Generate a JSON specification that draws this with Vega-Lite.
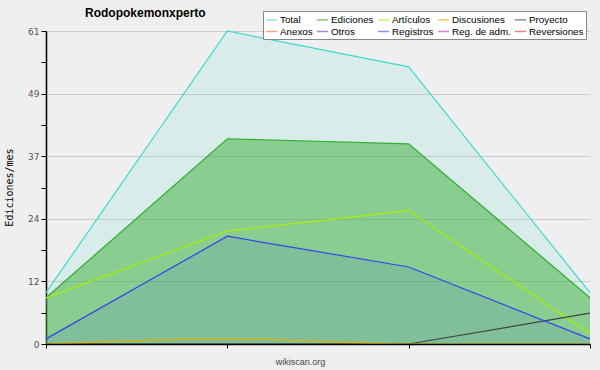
{
  "$schema": "https://vega.github.io/schema/vega-lite/v6.json",
  "width": 544,
  "height": 313,
  "autosize": {"type": "none"},
  "padding": {"left": 46, "top": 31, "right": 10, "bottom": 26},
  "background": "#efefef",
  "config": {"view": {"stroke": null}},
  "title": {"text": "Rodopokemonxperto", "anchor": "start", "frame": "group", "dx": 39, "dy": 20, "offset": 11, "font": "Liberation Sans", "fontSize": 12, "fontWeight": "bold", "color": "#000000"},
  "data": {"values": [
    {"m": 0, "serie": "Total", "v": 10}, {"m": 1, "serie": "Total", "v": 61}, {"m": 2, "serie": "Total", "v": 54}, {"m": 3, "serie": "Total", "v": 10},
    {"m": 0, "serie": "Ediciones", "v": 9}, {"m": 1, "serie": "Ediciones", "v": 40}, {"m": 2, "serie": "Ediciones", "v": 39}, {"m": 3, "serie": "Ediciones", "v": 9},
    {"m": 0, "serie": "Artículos", "v": 9}, {"m": 1, "serie": "Artículos", "v": 22}, {"m": 2, "serie": "Artículos", "v": 26}, {"m": 3, "serie": "Artículos", "v": 2},
    {"m": 0, "serie": "Discusiones", "v": 0}, {"m": 1, "serie": "Discusiones", "v": 1}, {"m": 2, "serie": "Discusiones", "v": 0}, {"m": 3, "serie": "Discusiones", "v": 0},
    {"m": 0, "serie": "Proyecto", "v": 0}, {"m": 1, "serie": "Proyecto", "v": 0}, {"m": 2, "serie": "Proyecto", "v": 0}, {"m": 3, "serie": "Proyecto", "v": 6},
    {"m": 0, "serie": "Registros", "v": 1}, {"m": 1, "serie": "Registros", "v": 21}, {"m": 2, "serie": "Registros", "v": 15}, {"m": 3, "serie": "Registros", "v": 1}
  ]},
  "encoding": {
    "x": {"field": "m", "type": "quantitative", "scale": {"domain": [0, 3], "nice": false, "zero": false},
      "axis": {"values": [0, 1, 2, 3], "labels": false, "grid": false, "zindex": 1, "domainColor": "#000000", "domainWidth": 1.5, "tickColor": "#000000", "tickSize": 4,
        "title": "wikiscan.org", "titleFont": "Liberation Sans", "titleFontSize": 9, "titleFontWeight": "normal", "titleColor": "#444444", "titleX": 254, "titleY": 20, "titleAlign": "center", "titleBaseline": "alphabetic"}},
    "y": {"field": "v", "type": "quantitative", "scale": {"domain": [0, 61], "nice": false},
      "axis": {"values": [0, 6.1, 12.2, 18.3, 24.4, 30.5, 36.6, 42.7, 48.8, 54.9, 61],
        "labelExpr": "abs(datum.value/12.2 - round(datum.value/12.2)) < 0.01 ? format(round(datum.value), 'd') : ''",
        "gridOpacity": {"condition": {"test": "abs(datum.value/12.2 - round(datum.value/12.2)) < 0.01", "value": 1}, "value": 0},
        "gridColor": "#cccccc", "domainColor": "#000000", "domainWidth": 1.5, "tickColor": "#000000", "tickSize": 5,
        "labelFont": "DejaVu Sans", "labelFontSize": 9, "labelColor": "#555555", "labelPadding": 2,
        "title": "Ediciones/mes", "titleFont": "DejaVu Sans Mono", "titleFontSize": 10, "titleFontWeight": "normal", "titleColor": "#000000",
        "titleX": -37, "titleY": 156, "titleAngle": -90, "titleAlign": "center", "titleBaseline": "middle"}}
  },
  "layer": [
    {"transform": [{"filter": "datum.serie == 'Total'"}], "mark": {"type": "area", "color": "#40e0c0", "opacity": 0.13}},
    {"transform": [{"filter": "datum.serie == 'Ediciones'"}], "mark": {"type": "area", "color": "#33aa33", "opacity": 0.48}},
    {"transform": [{"filter": "datum.serie == 'Registros'"}], "mark": {"type": "area", "color": "#3344ee", "opacity": 0.1}},
    {"transform": [{"filter": "datum.serie != 'Discusiones'"}], "mark": {"type": "line", "strokeWidth": 1.2},
      "encoding": {"color": {"field": "serie", "type": "nominal",
        "scale": {"domain": ["Total", "Ediciones", "Artículos", "Discusiones", "Proyecto", "Anexos", "Otros", "Registros", "Reg. de adm.", "Reversiones"],
          "range": ["#40d8d0", "#33aa33", "#aaee00", "#e0b000", "#444444", "#f07030", "#7030d0", "#3344ee", "#c030d0", "#e03030"]},
        "legend": {"orient": "none", "direction": "horizontal", "legendX": 217, "legendY": -20, "columns": 5, "title": null, "symbolType": "stroke", "symbolSize": 121, "symbolStrokeWidth": 1.5, "symbolOpacity": 0.6,
          "fillColor": "#ffffff", "strokeColor": "#888888", "padding": 2, "labelFont": "Liberation Sans", "labelFontSize": 9.8, "labelColor": "#000000", "labelOffset": 2, "columnPadding": 1, "rowPadding": -3}}}},
    {"transform": [{"filter": "datum.serie == 'Discusiones'"}], "mark": {"type": "line", "interpolate": "monotone", "strokeWidth": 1.2},
      "encoding": {"color": {"field": "serie", "type": "nominal"}}},
    {"data": {"values": [{"t": "CC BY-SA 3.0"}]}, "mark": {"type": "text", "align": "right", "baseline": "middle", "dy": 17, "font": "Liberation Sans", "fontSize": 7, "color": "#555555"},
      "encoding": {"x": {"datum": 3}, "y": {"datum": 0}, "text": {"field": "t"}}}
  ]
}
